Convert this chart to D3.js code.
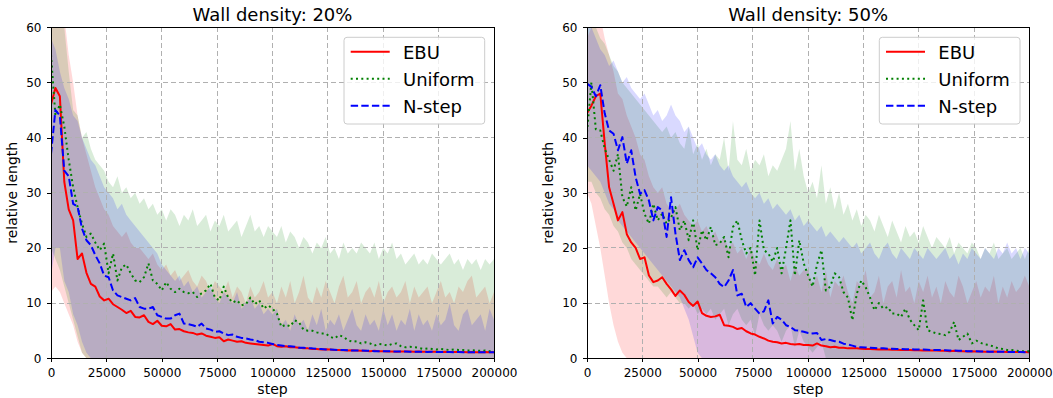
<!DOCTYPE html>
<html>
<head>
<meta charset="utf-8">
<script src="https://cdn.jsdelivr.net/npm/d3@7"></script>
<style>
  body { margin: 0; background: #fff; }
  svg text { font-family: "DejaVu Sans", sans-serif; fill: #000; }
</style>
</head>
<body>
<svg id="fig" width="1053" height="398"></svg>
<script>
// tick labels / categories
const xTicks = [0, 25000, 50000, 75000, 100000, 125000, 150000, 175000, 200000];
const yTicks = [0, 10, 20, 30, 40, 50, 60];
const methods = ["EBU", "Uniform", "N-step"];
const titles = ["Wall density: 20%", "Wall density: 50%"];
const stepSize = 2000; // one recorded point every 2000 steps

// ---- wall density 20% ----
const ebu20 = [46,49,47.5,32,27,25,18,19,15.5,13.5,
  13,11.2,10.5,10.8,9.8,9.3,8.8,8.2,8.6,7.5,
  7.4,7.8,6.6,6.2,6.8,5.9,5.8,6.2,5.2,5.3,
  4.9,4.7,4.6,4.3,4.5,4.1,3.9,3.7,3.8,3.1,
  3.4,3.2,3.0,3.1,2.8,2.7,2.6,2.5,2.4,2.3,
  2.6,2.2,2.1,2.2,2.0,2.0,1.9,1.8,1.8,1.7,
  1.7,1.6,1.65,1.6,1.5,1.5,1.45,1.4,1.45,1.4,
  1.35,1.35,1.3,1.35,1.3,1.3,1.25,1.25,1.2,1.25,
  1.25,1.25,1.2,1.25,1.2,1.2,1.2,1.2,1.15,1.2,
  1.15,1.15,1.15,1.15,1.1,1.15,1.1,1.1,1.15,1.1,
  1.1];
const uniform20 = [55,44,46,42,36,31,27.4,24.4,22,22.6,
  21,19.6,20.8,15.4,19,14.1,16.5,17,15.4,14.1,
  13.8,14.7,17.2,14.1,13.5,12.3,13.8,12.6,12,12.6,
  12,11.8,12,11.1,11.8,12.3,13.5,11,10.5,13,
  11,10.1,10.5,9.6,9.8,11,9.8,10.5,9.0,9.6,
  9.0,8.1,5.7,6.1,5.8,6.9,6.5,5.2,5.0,5.0,
  4.7,4.5,4.5,3.9,3.6,4.2,3.9,3.3,3.0,3.1,
  2.7,2.9,2.7,2.3,2.6,2.5,2.3,2.6,2.7,2.2,
  2.0,2.1,2.0,1.9,1.7,1.8,1.7,1.6,1.7,1.6,
  1.5,1.6,1.5,1.5,1.4,1.45,1.4,1.35,1.4,1.3,
  1.3];
const nstep20 = [37,45,44,34,33,28,27.5,23.5,21.4,20.5,
  18.7,17.2,15,14.7,12.3,11.4,11.1,10.8,10.5,10.9,
  9.3,9.0,9.0,9.3,7.8,7.5,7.2,7.2,7.8,8.1,
  6.3,6.2,6.0,5.7,6.3,5.4,5.2,4.8,4.9,4.5,
  4.2,4.3,3.9,3.7,3.6,3.4,3.3,3.0,2.9,2.8,
  2.6,2.4,2.3,2.2,2.2,2.1,1.9,1.9,1.8,1.8,
  1.7,1.7,1.6,1.6,1.55,1.5,1.5,1.45,1.4,1.4,
  1.4,1.35,1.35,1.3,1.3,1.3,1.3,1.25,1.25,1.25,
  1.25,1.2,1.2,1.2,1.2,1.15,1.2,1.15,1.15,1.15,
  1.15,1.1,1.15,1.1,1.1,1.1,1.1,1.1,1.1,1.1,
  1.1];
// band edges (mean +/- std as drawn)
const ebuHi20 = [75,72,68,62,55,50,44,40,37,34,
  31,29,27,26,24,23,22,23,21,20,
  20,19,18,19,17,16,17,15,16,14,
  15,16,14,13,15,14,12,14,13,12,
  14,11,13,12,10,13,11,12,14,11,
  12,10,13,11,14,10,12,15,11,10,
  13,11,14,12,10,13,15,11,12,14,
  10,12,13,11,14,10,12,13,11,12,
  14,10,13,11,12,13,10,12,14,11,
  12,10,13,12,14,15,11,12,13,10,
  12];
const ebuLo20 = [12,13,12,10,8,6,3,1,0,0,
  0,0,0,0,0,0,0,0,0,0, 0,0,0,0,0,0,0,0,0,0,
  0,0,0,0,0,0,0,0,0,0, 0,0,0,0,0,0,0,0,0,0,
  0,0,0,0,0,0,0,0,0,0, 0,0,0,0,0,0,0,0,0,0,
  0,0,0,0,0,0,0,0,0,0, 0,0,0,0,0,0,0,0,0,0,
  0,0,0,0,0,0,0,0,0,0, 0];
const uniformHi20 = [80,72,68,60,52,45,44,40,41,38,
  36,35,34,32,31,33,30,31,29,30,
  28,29,27,28,26,27,25,27,26,24,
  26,25,27,24,25,26,23,25,24,26,
  23,24,25,22,24,26,23,24,22,24,
  23,22,24,21,23,22,20,22,21,19,
  21,20,22,19,20,18,21,19,20,19,
  21,20,19,21,18,20,19,21,18,19,
  17,18,19,17,18,17,19,18,17,18,
  19,17,18,16,18,17,18,16,18,17,
  18];
const uniformLo20 = [20,18,16,13,10,7,4,1,0,0,
  0,0,0,0,0,0,0,0,0,0, 0,0,0,0,0,0,0,0,0,0,
  0,0,0,0,0,0,0,0,0,0, 0,0,0,0,0,0,0,0,0,0,
  0,0,0,0,0,0,0,0,0,0, 0,0,0,0,0,0,0,0,0,0,
  0,0,0,0,0,0,0,0,0,0, 0,0,0,0,0,0,0,0,0,0,
  0,0,0,0,0,0,0,0,0,0, 0];
const nstepHi20 = [58,56,52,49,47,44,43,40,38,36,
  35,33,31,30,29,27,28,26,25,24,
  23,22,21,20,19,17,16,15,14,15,
  13,14,12,13,11,12,13,11,10,12,
  11,10,12,9,10,11,9,10,8,9,
  8,9,6,7,5,8,6,7,5,8,
  6,9,5,7,6,8,5,7,9,6,
  5,8,6,7,5,9,6,8,5,7,
  6,9,5,8,6,7,5,8,6,7,
  10,6,5,8,9,6,7,8,5,9,
  7];
const nstepLo20 = [15,20,20,14,12,8,6,3,1,0,
  0,0,0,0,0,0,0,0,0,0, 0,0,0,0,0,0,0,0,0,0,
  0,0,0,0,0,0,0,0,0,0, 0,0,0,0,0,0,0,0,0,0,
  0,0,0,0,0,0,0,0,0,0, 0,0,0,0,0,0,0,0,0,0,
  0,0,0,0,0,0,0,0,0,0, 0,0,0,0,0,0,0,0,0,0,
  0,0,0,0,0,0,0,0,0,0, 0];

// ---- wall density 50% ----
const ebu50 = [44.4,45.8,47.5,48,39,31,28,25,26.5,22.5,
  21,20,18,18.3,15,13.8,14.1,14.7,13.5,12.5,
  11.3,12.3,11.5,10.2,9.5,10.3,8.2,7.7,7.5,7.6,
  7.9,6.0,5.9,5.7,5.3,5.5,4.9,4.5,4.3,3.9,
  3.6,3.2,3.0,2.9,2.7,2.8,2.6,2.5,2.6,2.4,
  2.4,2.3,2.7,2.3,2.2,2.0,2.1,1.9,1.9,1.8,
  1.8,1.8,1.75,1.7,1.7,1.65,1.6,1.65,1.6,1.55,
  1.55,1.5,1.5,1.5,1.45,1.45,1.4,1.45,1.4,1.4,
  1.35,1.35,1.3,1.35,1.3,1.3,1.25,1.3,1.25,1.25,
  1.2,1.2,1.25,1.2,1.2,1.15,1.2,1.15,1.15,1.15,
  1.1];
const uniform50 = [41,50,41.5,41.3,38,36,34,37,29.2,27.5,
  31,26.8,29.8,26.2,24.4,28,25,26.2,24.4,25.5,
  27.4,23.2,25,21.4,25,19.6,23.2,21.4,23.8,20.5,
  20.8,22,18.3,23.8,25,21.4,19,20,15,25,
  19.6,19,17.5,20,15.4,20,25,15,21.4,17.2,
  15,13,17,19.6,12.3,13,15.4,14.7,12,11,
  6.9,11.7,14.1,12.9,11,8.7,10,9.0,9.3,8.1,
  8.1,7.5,9.0,7.0,6.0,5.1,10.5,5.1,4.8,4.5,
  4.4,4.2,4.8,6.6,3.3,3.9,4.5,2.7,3.2,2.8,
  2.5,2.4,2.1,1.8,1.7,1.5,1.5,1.4,1.3,1.3,
  1.3];
const nstep50 = [49.8,49.2,47.5,49.5,44.4,41.3,40.7,37.7,40.1,35.3,
  37.7,32.8,29.8,30.5,28.6,25,27.4,26.8,22,29.2,
  22.6,17.8,19.6,17.8,16.5,18.3,17.2,16.0,15.4,14.7,
  13.5,12.9,14.1,16.0,11.4,11.7,9.3,10,9.0,8.1,
  8.5,10.5,6.3,7.5,7.0,6.0,5.7,5.1,5.0,4.8,
  4.6,4.5,4.6,3.3,3.5,3.3,3.1,3.0,2.65,2.5,
  2.3,2.05,2.0,1.95,1.9,1.85,1.8,1.8,1.75,1.75,
  1.7,1.7,1.65,1.65,1.6,1.6,1.6,1.55,1.5,1.5,
  1.5,1.45,1.4,1.4,1.35,1.35,1.3,1.3,1.3,1.25,
  1.25,1.2,1.2,1.2,1.2,1.15,1.15,1.15,1.15,1.1,
  1.1];
const ebuHi50 = [58,60,62,62,58,55,52,48,47,44,
  42,40,37,36,33,31,30,31,28,27,
  27,28,26,25,24,25,23,24,22,23,
  21,22,20,21,19,20,18,20,18,17,
  19,17,16,18,16,17,14,17,15,16,
  16,13,15,12,16,11,14,13,15,12,
  10,14,13,16,11,12,15,10,13,14,
  11,16,12,13,10,14,12,15,11,13,
  10,14,12,11,15,13,10,12,14,11,
  13,12,15,10,13,11,14,12,13,15,
  13];
const ebuLo50 = [30,28,24,20,15,10,6,3,1,0,
  0,0,0,0,0,0,0,0,0,0, 0,0,0,0,0,0,0,0,0,0,
  0,0,0,0,0,0,0,0,0,0, 0,0,0,0,0,0,0,0,0,0,
  0,0,0,0,0,0,0,0,0,0, 0,0,0,0,0,0,0,0,0,0,
  0,0,0,0,0,0,0,0,0,0, 0,0,0,0,0,0,0,0,0,0,
  0,0,0,0,0,0,0,0,0,0, 0];
const uniformHi50 = [60,62,60,58,57,55,53,52,50,49,
  48,47,46,45,44,43,42,41,42,40,
  41,39,38,42,37,39,36,38,35,37,
  36,40,34,43,36,35,38,34,36,35,
  37,33,35,34,36,38,43,34,38,33,
  30,32,29,35,28,31,27,30,26,28,
  25,27,24,26,25,23,26,24,22,25,
  23,21,24,22,23,21,24,22,20,22,
  21,20,22,19,21,20,19,21,20,18,
  20,19,21,18,19,20,18,19,20,18,
  20];
const uniformLo50 = [32,32,30,29,27,26,24,23,21,20,
  18,17,16,15,14,13,13,12,11,12,
  11,10,10,9,10,8,9,8,9,7,
  8,9,6,8,9,7,6,7,4,8,
  6,5,6,5,3,5,6,2,5,3,
  2,1,2,3,0,0,0,0,0,0,
  0,0,0,0,0,0,0,0,0,0, 0,0,0,0,0,0,0,0,0,0,
  0,0,0,0,0,0,0,0,0,0, 0,0,0,0,0,0,0,0,0,0,
  0,0,0,0,0,0,0,0,0,0,
  0];
const nstepHi50 = [62,60,58,56,55,53,54,52,50,51,
  49,48,47,48,46,44,45,43,44,46,
  44,43,41,42,40,38,39,37,36,37,
  35,34,35,33,32,31,32,30,29,30,
  28,29,27,28,27,26,27,25,26,24,
  25,24,23,24,22,23,22,21,22,21,
  20,21,19,20,21,19,18,20,21,19,
  18,20,19,18,20,19,18,20,19,18,
  19,20,18,19,17,19,18,20,19,18,
  20,19,18,20,19,21,19,20,18,20,
  19];
const nstepLo50 = [35,34,33,32,30,28,27,25,24,23,
  22,21,20,19,18,17,16,15,14,13,
  12,11,9,7,4,1,0,0,0,0,
  0,0,0,0,0,0,0,0,0,0, 0,0,0,0,0,0,0,0,0,0,
  0,0,0,0,0,0,0,0,0,0, 0,0,0,0,0,0,0,0,0,0,
  0,0,0,0,0,0,0,0,0,0, 0,0,0,0,0,0,0,0,0,0,
  0,0,0,0,0,0,0,0,0,0,
  0];

// line styles per method
const colors = { "EBU": "#ff0000", "Uniform": "#008000", "N-step": "#0000ff" };
const dashes = { "EBU": null, "Uniform": "2,3.3", "N-step": "7.4,3.2" };

const panels = [
  { title: titles[0], x0: 51, x1: 494,
    series: { "EBU": [ebu20, ebuLo20, ebuHi20], "Uniform": [uniform20, uniformLo20, uniformHi20], "N-step": [nstep20, nstepLo20, nstepHi20] } },
  { title: titles[1], x0: 587, x1: 1029.3,
    series: { "EBU": [ebu50, ebuLo50, ebuHi50], "Uniform": [uniform50, uniformLo50, uniformHi50], "N-step": [nstep50, nstepLo50, nstepHi50] } }
];

const svg = d3.select("#fig");
const yTop = 27.3, yBottom = 358.3;

panels.forEach((p, pi) => {
  const x = d3.scaleLinear().domain([0, 200000]).range([p.x0, p.x1]);
  const y = d3.scaleLinear().domain([0, 60]).range([yBottom, yTop]);
  const stepOf = i => i * stepSize;

  const clipId = "clip" + pi;
  svg.append("clipPath").attr("id", clipId)
    .append("rect")
    .attr("x", p.x0).attr("y", yTop)
    .attr("width", p.x1 - p.x0).attr("height", yBottom - yTop);

  const g = svg.append("g");

  // shaded bands
  const area = d3.area()
    .x((d, i) => x(stepOf(i)))
    .y0(d => y(d[0]))
    .y1(d => y(d[1]));
  methods.forEach(m => {
    const [mean, lo, hi] = p.series[m];
    g.append("path")
      .datum(d3.zip(lo, hi))
      .attr("d", area)
      .attr("fill", colors[m])
      .attr("fill-opacity", 0.15)
      .attr("clip-path", `url(#${clipId})`);
  });

  // grid (above fills, below lines like matplotlib)
  const grid = g.append("g")
    .attr("stroke", "#b0b0b0")
    .attr("stroke-width", 1)
    .attr("stroke-dasharray", "5,3")
    .attr("shape-rendering", "crispEdges");
  grid.selectAll(".gx").data(xTicks).enter().append("line")
    .attr("x1", d => x(d)).attr("x2", d => x(d))
    .attr("y1", yTop).attr("y2", yBottom);
  grid.selectAll(".gy").data(yTicks).enter().append("line")
    .attr("x1", p.x0).attr("x2", p.x1)
    .attr("y1", d => y(d)).attr("y2", d => y(d));

  // mean lines
  const line = d3.line()
    .x((d, i) => x(stepOf(i)))
    .y(d => y(d));
  methods.forEach(m => {
    g.append("path")
      .datum(p.series[m][0])
      .attr("d", line)
      .attr("fill", "none")
      .attr("stroke", colors[m])
      .attr("stroke-width", 2)
      .attr("stroke-linejoin", "round")
      .attr("stroke-dasharray", dashes[m])
      .attr("clip-path", `url(#${clipId})`);
  });

  // axes
  const ax = svg.append("g")
    .attr("transform", `translate(0,${yBottom})`)
    .call(d3.axisBottom(x).tickValues(xTicks).tickFormat(d3.format("d")).tickSize(4).tickPadding(6));
  const ay = svg.append("g")
    .attr("transform", `translate(${p.x0},0)`)
    .call(d3.axisLeft(y).tickValues(yTicks).tickSize(4).tickPadding(5.5));
  [ax, ay].forEach(a => {
    a.select(".domain").remove();
    a.attr("font-family", "DejaVu Sans").attr("font-size", 12);
    a.selectAll("line").attr("stroke", "#000").attr("shape-rendering", "crispEdges");
  });

  // frame
  svg.append("rect")
    .attr("x", p.x0).attr("y", yTop)
    .attr("width", p.x1 - p.x0).attr("height", yBottom - yTop)
    .attr("fill", "none").attr("stroke", "#000").attr("stroke-width", 1)
    .attr("shape-rendering", "crispEdges");

  // title and axis labels
  const cx = (p.x0 + p.x1) / 2;
  svg.append("text").attr("x", cx).attr("y", 20.7)
    .attr("text-anchor", "middle").attr("font-size", 18).text(p.title);
  svg.append("text").attr("x", cx).attr("y", 394)
    .attr("text-anchor", "middle").attr("font-size", 14).text("step");
  svg.append("text")
    .attr("transform", `translate(${p.x0 - 34},${(yTop + yBottom) / 2}) rotate(-90)`)
    .attr("text-anchor", "middle").attr("font-size", 14).text("relative length");

  // legend
  const bw = 140.7, bh = 86.7;
  const bx = p.x1 - 9.3 - bw, by = 37.3;
  const lg = svg.append("g");
  lg.append("rect")
    .attr("x", bx).attr("y", by).attr("width", bw).attr("height", bh)
    .attr("rx", 3).attr("fill", "#fff").attr("fill-opacity", 0.8)
    .attr("stroke", "#cccccc").attr("stroke-width", 1);
  methods.forEach((m, i) => {
    const base = 59.3 + i * 27;
    lg.append("line")
      .attr("x1", bx + 6.7).attr("x2", bx + 45.7)
      .attr("y1", base - 7.5).attr("y2", base - 7.5)
      .attr("stroke", colors[m]).attr("stroke-width", 2)
      .attr("stroke-dasharray", dashes[m]);
    lg.append("text").attr("x", bx + 59).attr("y", base)
      .attr("font-size", 18).text(m);
  });
});
</script>
</body>
</html>
